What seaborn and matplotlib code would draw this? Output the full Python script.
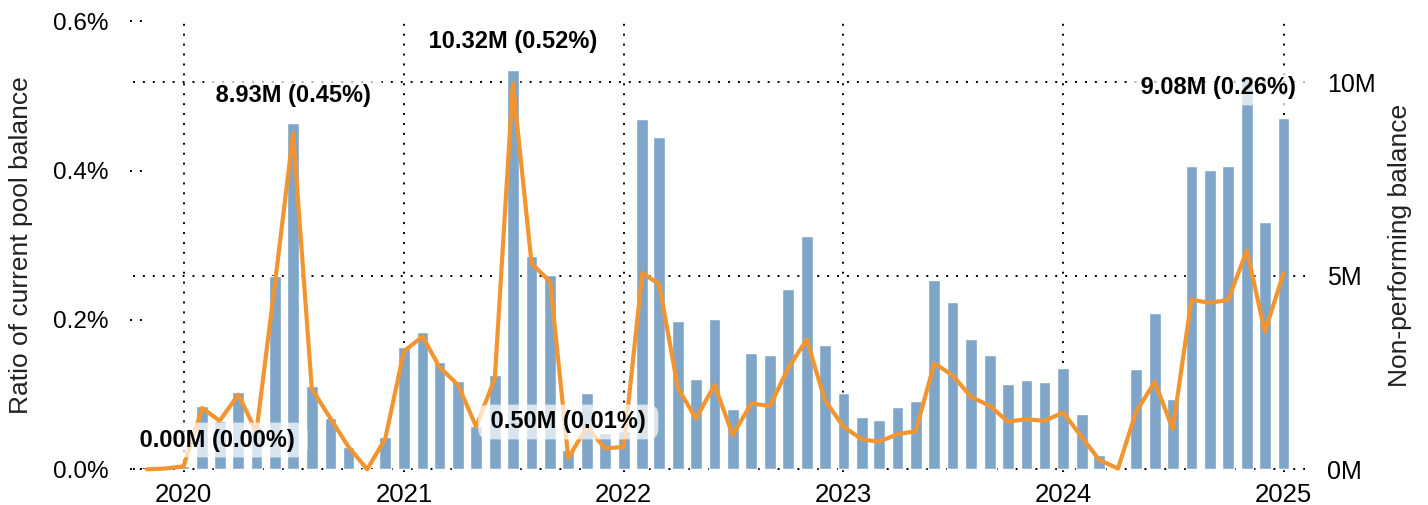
import numpy as np
import pandas as pd
import matplotlib
matplotlib.use("Agg")
import matplotlib.pyplot as plt
import matplotlib.dates as mdates
import matplotlib.transforms as mtransforms
from matplotlib.ticker import FuncFormatter
import seaborn as sns

# ---------------------------------------------------------------------------
# DATA
# ---------------------------------------------------------------------------
months = pd.date_range("2019-11-01", "2025-01-01", freq="MS")

# non-performing balance, millions
balance_m = [
    0.00, 0.00,
    0.08, 1.64, 1.25, 2.00, 1.10, 4.99, 8.93, 2.15, 1.33, 0.58, 0.00, 0.83,
    3.17, 3.55, 2.77, 2.28, 1.13, 2.44, 10.32, 5.51, 5.01, 0.50, 1.98, 0.95,
    1.00, 9.04, 8.57, 3.83, 2.33, 3.88, 1.56, 3.00, 2.95, 4.66, 6.02, 3.21,
    1.98, 1.35, 1.27, 1.61, 1.76, 4.89, 4.32, 3.36, 2.95, 2.20, 2.31, 2.25,
    2.62, 1.43, 0.37, 0.00, 2.59, 4.04, 1.82, 7.83, 7.73, 7.83, 10.15, 6.39,
    9.08,
]

# ratio of current pool balance, percent
ratio_pct = [
    0.000, 0.001,
    0.004, 0.082, 0.065, 0.100, 0.050, 0.250, 0.450, 0.108, 0.068, 0.030, 0.000, 0.041,
    0.158, 0.178, 0.137, 0.113, 0.057, 0.122, 0.517, 0.276, 0.251, 0.015, 0.057, 0.028,
    0.030, 0.263, 0.248, 0.109, 0.068, 0.113, 0.046, 0.088, 0.085, 0.135, 0.174, 0.093,
    0.057, 0.040, 0.037, 0.047, 0.051, 0.142, 0.126, 0.097, 0.085, 0.064, 0.067, 0.065,
    0.076, 0.043, 0.0125, 0.001, 0.077, 0.117, 0.054, 0.227, 0.223, 0.227, 0.293, 0.184,
    0.263,
]

left_ticks = [0.0, 0.2, 0.4, 0.6]
right_ticks = [0, 5, 10]

annot_text = ["0.00M (0.00%)", "8.93M (0.45%)", "10.32M (0.52%)", "0.50M (0.01%)", "9.08M (0.26%)"]
annot_month = ["2019-11-01", "2020-07-01", "2021-07-01", "2021-10-01", "2025-01-01"]

BAR_COLOR = "#7FA6C8"
LINE_COLOR = "#F29530"

# ---------------------------------------------------------------------------
# PLOT
# ---------------------------------------------------------------------------
sns.set_theme(style="white")
plt.rcParams["font.family"] = ["Liberation Sans", "DejaVu Sans"]

df = pd.DataFrame({"x": mdates.date2num(months), "balance": balance_m, "ratio": ratio_pct})

fig = plt.figure(figsize=(14.28, 5.05), dpi=100)
ax = fig.add_axes([142 / 1428, 1 - 472 / 505, 1153 / 1428, 453 / 505])

# bars: ~19.5 days wide, seaborn scales width by the smallest gap (28 days)
sns.barplot(data=df, x="x", y="balance", native_scale=True, width=19.5 / 28,
            color=BAR_COLOR, saturation=1, errorbar=None, ax=ax, zorder=2)

ax2 = ax.twinx()
sns.lineplot(data=df, x="x", y="ratio", color=LINE_COLOR, lw=3, ax=ax2, zorder=3)

# axes ranges (0 sits just above the bottom edge)
x0 = mdates.date2num(pd.Timestamp("2019-10-24"))
x1 = mdates.date2num(pd.Timestamp("2025-01-20"))
ax.set_xlim(x0, x1)
ax.set_ylim(-0.0697, 11.627)
ax2.set_ylim(-0.00362, 0.6032)

for a in (ax, ax2):
    for s in a.spines.values():
        s.set_visible(False)
    a.set_xlabel("")
    a.set_ylabel("")

dot = (0, (1, 4.1))

# x axis: years with dotted vertical grid
ax.xaxis.set_major_locator(mdates.YearLocator())
ax.xaxis.set_major_formatter(mdates.DateFormatter("%Y"))
ax.tick_params(axis="x", length=0, pad=8, labelsize=18.5, labelcolor="black")
ax.set_axisbelow(True)
ax.grid(axis="x", color="black", linestyle=dot, linewidth=1.4)
ax.grid(axis="y", visible=False)
ax2.grid(False)

# right axis: balance
ax.yaxis.tick_right()
ax.set_yticks(right_ticks)
ax.yaxis.set_major_formatter(FuncFormatter(lambda v, p: f"{v:.0f}M"))
ax.tick_params(axis="y", length=0, pad=23, labelsize=18, labelcolor="black")
trans_r = mtransforms.blended_transform_factory(ax.transAxes, ax.transData)
for v in right_ticks:
    ax.plot([-0.008, 1.009], [v, v], transform=trans_r, color="black",
            linestyle=dot, linewidth=1.4, clip_on=False, zorder=1)

# left axis: ratio
ax2.yaxis.tick_left()
ax2.set_yticks(left_ticks)
ax2.yaxis.set_major_formatter(FuncFormatter(lambda v, p: f"{v:.1f}%"))
ax2.tick_params(axis="y", length=0, pad=24, labelsize=17.5, labelcolor="black")
trans_l = mtransforms.blended_transform_factory(ax2.transAxes, ax2.transData)
for v in left_ticks:
    ax2.plot([-0.0104, 0], [v, v], transform=trans_l, color="black",
             linestyle=dot, linewidth=1.4, clip_on=False)

fig.text(21 / 1428, 1 - 245.5 / 505, "Ratio of current pool balance", rotation=90,
         ha="center", va="center", fontsize=19, color="#222222")
fig.text(1400 / 1428, 1 - 245.5 / 505, "Non-performing balance", rotation=90,
         ha="center", va="center", fontsize=19, color="#222222")

# value labels: centred on their month, except the two at the edges which
# are pushed inside the plot area
annot_y = [0.0706, 0.8322, 0.9514, 0.1104, 0.8477]
edge_x = {0: 0.0655, 4: 0.9332}
box = dict(boxstyle="round,pad=0.25,rounding_size=0.45", fc="white", ec="none", alpha=0.7)
for i, (txt, m, yf) in enumerate(zip(annot_text, annot_month, annot_y)):
    xf = edge_x.get(i, (mdates.date2num(pd.Timestamp(m)) - x0) / (x1 - x0))
    ax2.text(xf, yf, f" {txt} ", transform=ax2.transAxes, ha="center", va="center",
             fontsize=17, fontweight="bold", color="black", bbox=box, zorder=6)

fig.savefig("out.png", dpi=100)
plt.close(fig)
